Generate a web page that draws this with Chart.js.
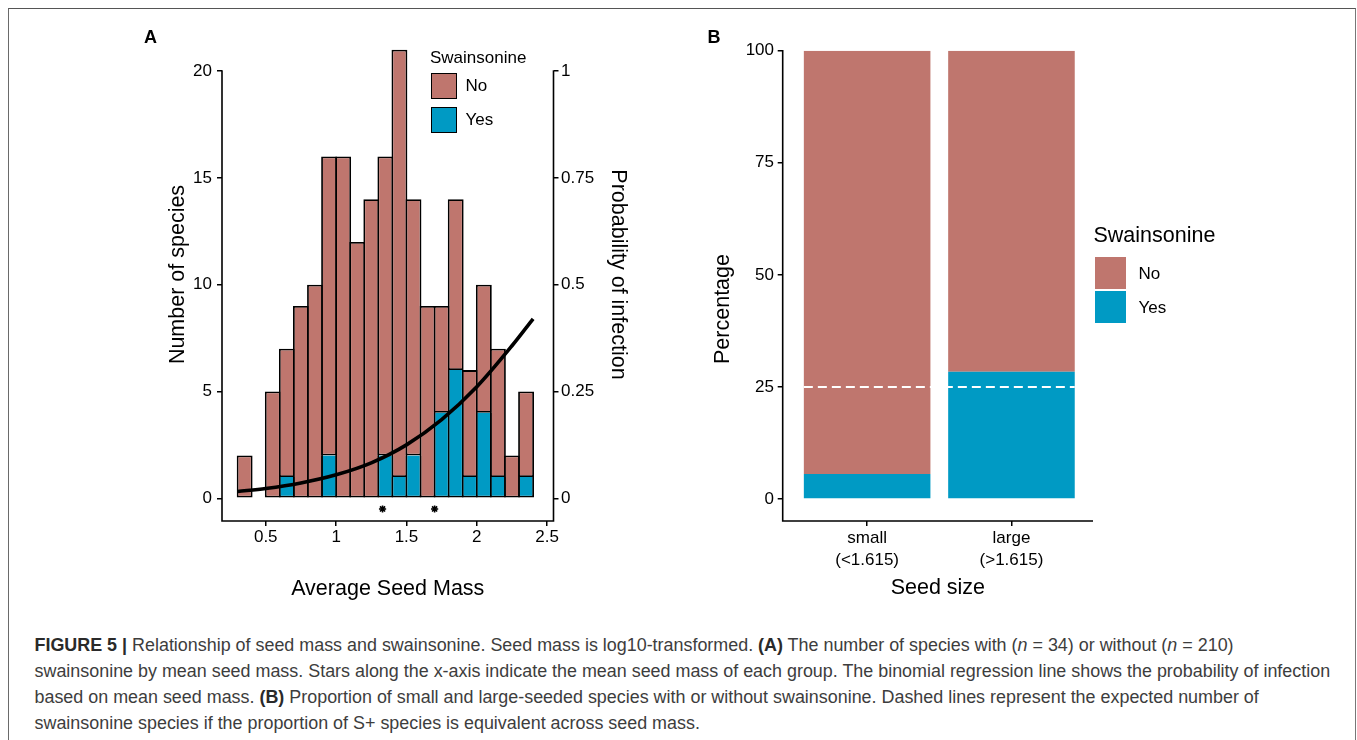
<!DOCTYPE html>
<html>
<head>
<meta charset="utf-8">
<script src="https://cdn.jsdelivr.net/npm/chart.js@4.4.1/dist/chart.umd.min.js"></script>
<style>
  html,body{margin:0;padding:0;background:#fff;}
  body{width:1357px;height:740px;overflow:hidden;position:relative;font-family:"Liberation Sans",Arial,Helvetica,sans-serif;color:#000;}
  .abs{position:absolute;white-space:nowrap;}
  #frame{position:absolute;left:7.5px;top:7.5px;width:1348px;height:800px;box-sizing:border-box;border-left:1.5px solid #6a6a6a;border-top:1.5px solid #555;border-right:1.5px solid #777;}
  .panel{font-weight:bold;font-size:18px;line-height:18px;}
  .key{position:absolute;box-sizing:border-box;}
  .cap{position:absolute;white-space:nowrap;color:#3d3d3d;left:34.5px;}
  .cap b{color:#2a2a2a;}
  canvas{position:absolute;}
</style>
</head>
<body>
<div id="frame"></div>

<canvas id="cA" width="680" height="620" style="left:0;top:0;width:680px;height:620px;"></canvas>
<canvas id="cB" width="420" height="620" style="left:700px;top:0;width:420px;height:620px;"></canvas>

<div class="abs panel" style="left:144px;top:27.7px;">A</div>
<div class="abs panel" style="left:707.5px;top:27.7px;">B</div>

<!-- Legend A -->
<div class="abs" style="left:430px;top:49.2px;font-size:17px;line-height:17px;">Swainsonine</div>
<div class="key" style="left:431px;top:73px;width:25.5px;height:25.5px;background:#BF766E;border:1.7px solid #000;"></div>
<div class="key" style="left:431px;top:107px;width:25.5px;height:25.5px;background:#009AC4;border:1.7px solid #000;"></div>
<div class="abs" style="left:465.5px;top:77.2px;font-size:17px;line-height:17px;">No</div>
<div class="abs" style="left:465.5px;top:111.4px;font-size:17px;line-height:17px;">Yes</div>

<!-- Legend B -->
<div class="abs" style="left:1093.5px;top:224.9px;font-size:21.5px;line-height:21.5px;">Swainsonine</div>
<div class="key" style="left:1094.5px;top:257px;width:31.5px;height:31.5px;background:#BF766E;"></div>
<div class="key" style="left:1094.5px;top:291px;width:31.5px;height:31.5px;background:#009AC4;"></div>
<div class="abs" style="left:1138.5px;top:264.9px;font-size:17px;line-height:17px;">No</div>
<div class="abs" style="left:1138.5px;top:299.3px;font-size:17px;line-height:17px;">Yes</div>

<!-- Panel B y title -->
<div class="abs" style="left:723px;top:309px;font-size:21.5px;line-height:21.5px;transform:translate(-50%,-50%) rotate(-90deg);">Percentage</div>

<!-- Caption -->
<div class="cap"><b>FIGURE 5 |</b> Relationship of seed mass and swainsonine. Seed mass is log10-transformed. <b>(A)</b> The number of species with (<i>n</i> = 34) or without (<i>n</i> = 210)</div>
<div class="cap">swainsonine by mean seed mass. Stars along the x-axis indicate the mean seed mass of each group. The binomial regression line shows the probability of infection</div>
<div class="cap">based on mean seed mass. <b>(B)</b> Proportion of small and large-seeded species with or without swainsonine. Dashed lines represent the expected number of</div>
<div class="cap">swainsonine species if the proportion of S+ species is equivalent across seed mass.</div>

<script>
// ---------------- DATA ----------------
// Panel A: histogram bins (log10 mean seed mass), bin width 0.1
const binCenters = [0.35,0.45,0.55,0.65,0.75,0.85,0.95,1.05,1.15,1.25,1.35,1.45,1.55,1.65,1.75,1.85,1.95,2.05,2.15,2.25,2.35];
const yesCounts  = [0,0,0,1,0,0,2,0,0,0,2,1,2,0,4,6,1,4,1,0,1];
const noCounts   = [2,0,5,6,9,10,14,16,12,14,14,20,12,9,5,8,5,6,6,2,4];
// binomial regression curve
const curveX = [0.3,0.5,0.75,1.0,1.25,1.5,1.75,2.0,2.25,2.4];
const curveP = [0.016,0.023,0.036,0.055,0.083,0.125,0.184,0.261,0.357,0.42];
// group means (stars)
const starX = [1.33,1.70];
const starY = -0.5;
// Panel A ticks
const massTicks = [0.5,1,1.5,2,2.5];
const massTickLabels = ["0.5","1","1.5","2","2.5"];
const countTicks = [0,5,10,15,20];
const probTicks = [0,0.25,0.5,0.75,1];
const probTickLabels = ["0","0.25","0.5","0.75","1"];
// Panel B
const sizeCategories = [["small","(<1.615)"],["large","(>1.615)"]];
const yesPct = [5.6,28.4];
const noPct  = [94.4,71.6];
const expectedPct = 25;
const pctTicks = [0,25,50,75,100];

// ---------------- STYLE ----------------
const F = '"Liberation Sans", Arial, Helvetica, sans-serif';
const BROWN = '#BF766E', BLUE = '#009AC4';
Chart.defaults.font.family = F;
Chart.defaults.color = '#000';
const tickGrid = {display:true, drawOnChartArea:false, drawTicks:true, tickLength:5, color:'#000', lineWidth:1.5, offset:false};
const noBorder = {display:false};
const titleFont = {size:21.5, family:F};
const tickFont = {size:17, family:F};

const axisA = {
  id:'axisA',
  afterDraw(c){
    const {ctx, chartArea:a, scales:s} = c;
    const yTop = s.y.getPixelForValue(countTicks[countTicks.length-1]);
    const y1Top = s.y1.getPixelForValue(probTicks[probTicks.length-1]);
    ctx.save();
    ctx.strokeStyle='#000'; ctx.lineWidth=1.6; ctx.lineJoin='miter';
    ctx.beginPath();
    ctx.moveTo(a.left, yTop-0.75);
    ctx.lineTo(a.left, a.bottom);
    ctx.lineTo(a.right, a.bottom);
    ctx.lineTo(a.right, y1Top-0.75);
    ctx.stroke();
    ctx.restore();
  }
};
const axisB = {
  id:'axisB',
  afterDraw(c){
    const {ctx, chartArea:a, scales:s} = c;
    const yTop = s.y.getPixelForValue(pctTicks[pctTicks.length-1]);
    ctx.save();
    ctx.strokeStyle='#000'; ctx.lineWidth=1.6;
    ctx.beginPath();
    ctx.moveTo(a.left, yTop-0.75);
    ctx.lineTo(a.left, a.bottom);
    ctx.lineTo(a.right, a.bottom);
    ctx.stroke();
    ctx.restore();
  }
};

// ---------------- CHART A ----------------
const barBorder = 1.8;
const barPct = (14.05 + barBorder) / 14.05;
new Chart(document.getElementById('cA'), {
  type:'bar',
  data:{datasets:[
    {type:'line', label:'fit', data: curveX.map((x,i)=>({x:x, y:curveP[i]})), xAxisID:'x', yAxisID:'y1',
     borderColor:'#000', borderWidth:3.6, pointRadius:0, cubicInterpolationMode:'monotone', fill:false, order:0, borderCapStyle:'butt'},
    {type:'scatter', label:'means', data: starX.map(x=>({x:x, y:starY})), xAxisID:'x', yAxisID:'y',
     pointStyle:'star', radius:3.6, borderWidth:1.6, borderColor:'#000', backgroundColor:'#000', order:0},
    {label:'Yes', data: binCenters.map((x,i)=>({x:x, y: yesCounts[i] ? yesCounts[i] : null})), xAxisID:'x', yAxisID:'y',
     backgroundColor:BLUE, borderColor:'#000', borderWidth:barBorder, borderSkipped:'end', barPercentage:barPct, categoryPercentage:1, order:1},
    {label:'No', data: binCenters.map((x,i)=>({x:x, y: noCounts[i] ? noCounts[i] : null})), xAxisID:'x', yAxisID:'y',
     backgroundColor:BROWN, borderColor:'#000', borderWidth:barBorder, borderSkipped:false,
     barPercentage:barPct, categoryPercentage:1, order:1}
  ]},
  options:{
    responsive:false, animation:false, events:[],
    layout:{padding:{left:165, right:49, top:28, bottom:18}},
    plugins:{legend:{display:false}, tooltip:{enabled:false}},
    scales:{
      x:{type:'linear', min:0.189, max:2.545, stacked:true, offset:false,
         afterBuildTicks:s=>{s.ticks = massTicks.map(v=>({value:v}));},
         afterFit:s=>{s.height = 81;},
         grid:tickGrid, border:noBorder,
         ticks:{font:tickFont, padding:1.5, color:'#000', autoSkip:false, maxRotation:0, callback:(v,i)=>massTickLabels[i]},
         title:{display:true, text:'Average Seed Mass', font:titleFont, color:'#000', padding:{top:0,bottom:0}}},
      y:{type:'linear', position:'left', min:-1.0625, max:22.0125, stacked:true,
         afterBuildTicks:s=>{s.ticks = countTicks.map(v=>({value:v}));},
         afterFit:s=>{s.width = 57;},
         grid:tickGrid, border:noBorder,
         ticks:{font:tickFont, padding:5, color:'#000', callback:v=>String(v)},
         title:{display:true, text:'Number of species', font:titleFont, color:'#000', padding:{top:0,bottom:0}}},
      y1:{type:'linear', position:'right', min:-0.053125, max:1.100625,
         afterBuildTicks:s=>{s.ticks = probTicks.map(v=>({value:v}));},
         afterFit:s=>{s.width = 77.5;},
         grid:tickGrid, border:noBorder,
         ticks:{font:tickFont, padding:2.5, color:'#000', callback:(v,i)=>probTickLabels[i]},
         title:{display:true, text:'Probability of infection', font:titleFont, color:'#000', padding:{top:0,bottom:0}}}
    }
  },
  plugins:[axisA]
});

// ---------------- CHART B ----------------
const barFrac = 0.877;
new Chart(document.getElementById('cB'), {
  type:'bar',
  data:{datasets:[
    {type:'line', label:'expected', data:[{x:1-barFrac/2, y:expectedPct},{x:sizeCategories.length+barFrac/2, y:expectedPct}],
     borderColor:'#fff', borderWidth:2, borderDash:[9,5], pointRadius:0, fill:false, order:0},
    {label:'Yes', data: sizeCategories.map((c,i)=>({x:i+1, y:yesPct[i]})), backgroundColor:BLUE, borderWidth:0,
     barPercentage:barFrac, categoryPercentage:1, order:1},
    {label:'No', data: sizeCategories.map((c,i)=>({x:i+1, y:noPct[i]})), backgroundColor:BROWN, borderWidth:0,
     barPercentage:barFrac, categoryPercentage:1, order:1}
  ]},
  options:{
    responsive:false, animation:false, events:[],
    layout:{padding:{left:0, right:27, top:50.7, bottom:19.5}},
    plugins:{legend:{display:false}, tooltip:{enabled:false}},
    scales:{
      x:{type:'linear', min:0.415, max:2.565, stacked:true, offset:false,
         afterBuildTicks:s=>{s.ticks = sizeCategories.map((c,i)=>({value:i+1}));},
         afterFit:s=>{s.height = 79.5;},
         grid:tickGrid, border:noBorder,
         ticks:{font:{size:17, family:F, lineHeight:1.3}, padding:1, color:'#000', autoSkip:false, maxRotation:0, callback:(v,i)=>sizeCategories[i]},
         title:{display:true, text:'Seed size', font:titleFont, color:'#000', padding:{top:0,bottom:0}}},
      y:{type:'linear', min:-4.907, max:100, stacked:true,
         afterBuildTicks:s=>{s.ticks = pctTicks.map(v=>({value:v}));},
         afterFit:s=>{s.width = 82.7;},
         grid:tickGrid, border:noBorder,
         ticks:{font:tickFont, padding:3.7, color:'#000', callback:v=>String(v)}}
    }
  },
  plugins:[axisB]
});

// ---------------- caption layout ----------------
(function(){
  const lines = Array.from(document.querySelectorAll('.cap'));
  const centers = [646.5, 673, 699, 725];
  const target = 1297;
  lines[1].style.fontSize = '16px';
  const w = lines[1].getBoundingClientRect().width;
  const fs = 16 * target / w;
  lines.forEach((el,i)=>{
    el.style.fontSize = fs+'px';
    el.style.lineHeight = fs+'px';
    el.style.top = (centers[i] - 0.55*fs)+'px';
  });
})();
</script>
</body>
</html>
